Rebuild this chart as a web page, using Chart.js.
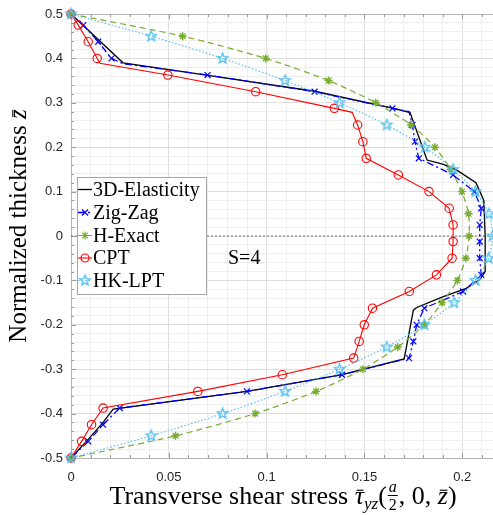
<!DOCTYPE html>
<html>
<head>
<meta charset="utf-8">
<script src="https://cdn.jsdelivr.net/npm/chart.js@4.4.0/dist/chart.umd.min.js"></script>
<style>
    html, body { margin: 0; padding: 0; background: #fff; }
    #wrap { width: 493px; height: 515px; }
</style>
</head>
<body>
<div id="wrap"><canvas id="shearChart" width="493" height="515"></canvas></div>
<script>
// Series names (legend order)
const seriesNames = ['3D-Elasticity', 'Zig-Zag', 'H-Exact', 'CPT', 'HK-LPT'];

// 3D-Elasticity (reference solution)
const elasticityX = [0, 0.0266, 0.07, 0.1245, 0.1643, 0.1733, 0.182, 0.19, 0.197, 0.207, 0.211, 0.2117, 0.2117,
    0.209, 0.202, 0.19, 0.1767, 0.175, 0.1703, 0.1385, 0.09, 0.0216, 0.016, 0.008, 0];
const elasticityY = [0.5, 0.39, 0.362, 0.326, 0.288, 0.278, 0.171, 0.162, 0.149, 0.12, 0.08, 0, -0.08,
    -0.098, -0.118, -0.137, -0.161, -0.167, -0.277, -0.312, -0.35, -0.39, -0.422, -0.462, -0.5];

// Zig-Zag
const zigZagX = [0, 0.0063, 0.0139, 0.0207, 0.0266, 0.0698, 0.1245, 0.1643, 0.1728, 0.1745, 0.1758, 0.1778, 0.1953,
    0.2062, 0.2097, 0.2089, 0.2089, 0.2089, 0.2097, 0.2004, 0.1806, 0.1767, 0.175, 0.1728, 0.1385, 0.0899, 0.0249,
    0.0164, 0.0088, 0];
const zigZagY = [0.5, 0.475, 0.4375, 0.4, 0.388, 0.3625, 0.325, 0.2875, 0.28, 0.25, 0.2125, 0.175, 0.1375,
    0.1, 0.0625, 0.025, -0.0125, -0.05, -0.0875, -0.125, -0.1625, -0.2, -0.2375, -0.275, -0.3125, -0.35, -0.3875,
    -0.425, -0.4625, -0.5];

// CPT
const cptX = [0, 0.0037, 0.0088, 0.0134, 0.0148, 0.0495, 0.0944, 0.1346, 0.1437, 0.1465, 0.1492, 0.1509, 0.1673,
    0.183, 0.1933, 0.1953, 0.1953, 0.1948, 0.1868, 0.1729, 0.1541, 0.1499, 0.1473, 0.1445, 0.108, 0.0648, 0.0164,
    0.0105, 0.0054, 0];
const cptY = [0.5, 0.475, 0.4375, 0.4, 0.389, 0.3625, 0.325, 0.2875, 0.2785, 0.25, 0.2125, 0.175, 0.1375,
    0.1, 0.0625, 0.025, -0.0125, -0.05, -0.0875, -0.125, -0.1625, -0.2, -0.2375, -0.275, -0.3125, -0.35, -0.3875,
    -0.425, -0.4625, -0.5];

// H-Exact and HK-LPT share the same thickness stations
const stationY = [0.5, 0.45, 0.4, 0.35, 0.3, 0.25, 0.2, 0.15, 0.1, 0.05, 0,
    -0.05, -0.1, -0.15, -0.2, -0.25, -0.3, -0.35, -0.4, -0.45, -0.5];
const hExactX = [0, 0.0571, 0.0995, 0.1317, 0.1558, 0.1738, 0.186, 0.194, 0.1998, 0.2032, 0.2035,
    0.2018, 0.1975, 0.1897, 0.1806, 0.167, 0.1492, 0.1253, 0.0941, 0.0534, 0];
const hkLptX = [0, 0.041, 0.0775, 0.1094, 0.1373, 0.1614, 0.1809, 0.1953, 0.2067, 0.2136, 0.2155,
    0.2134, 0.2067, 0.1958, 0.1806, 0.1614, 0.1373, 0.1094, 0.0775, 0.041, 0];

// Axis ticks
const xTickValues = [0, 0.05, 0.1, 0.15, 0.2];
const xTickLabels = ['0', '0.05', '0.1', '0.15', '0.2'];
const yTickValues = [-0.5, -0.4, -0.3, -0.2, -0.1, 0, 0.1, 0.2, 0.3, 0.4, 0.5];
const yTickLabels = ['-0.5', '-0.4', '-0.3', '-0.2', '-0.1', '0', '0.1', '0.2', '0.3', '0.4', '0.5'];
const xAxisMax = 0.2157;

// points that are only line kinks (no marker drawn)
const zigZagNoMarker = [4, 8];
const cptNoMarker = [4, 8];

const SERIF = '"Liberation Serif", "Times New Roman", serif';
const SANS = '"Liberation Sans", Arial, sans-serif';

function toPoints(xs, ys) {
    return xs.map((x, i) => ({ x: x, y: ys[i] }));
}

function tickLabel(v, values, labels) {
    for (let i = 0; i < values.length; i++) {
        if (Math.abs(values[i] - v) < 1e-6) return labels[i];
    }
    return '';
}

// five pointed star marker (MATLAB 'pentagram')
function makePentagram(color, r) {
    const c = document.createElement('canvas');
    const size = Math.ceil(2 * r + 4);
    c.width = size; c.height = size;
    const g = c.getContext('2d');
    const cx = size / 2, cy = size / 2;
    g.beginPath();
    for (let k = 0; k < 10; k++) {
        const rad = k % 2 === 0 ? r : r * 0.42;
        const a = -Math.PI / 2 + k * Math.PI / 5;
        const px = cx + rad * Math.cos(a), py = cy + rad * Math.sin(a);
        if (k === 0) g.moveTo(px, py); else g.lineTo(px, py);
    }
    g.closePath();
    g.strokeStyle = color;
    g.lineWidth = 1.3;
    g.stroke();
    return c;
}

const hkStar = makePentagram('#4DBEEE', 5.5);

const datasets = [
    {
        label: seriesNames[0],
        data: toPoints(elasticityX, elasticityY),
        borderColor: '#000000',
        borderWidth: 1.3,
        pointRadius: 0,
        order: 5,
        legendMarker: null
    },
    {
        label: seriesNames[1],
        data: toPoints(zigZagX, zigZagY),
        borderColor: '#0000FF',
        borderWidth: 1.3,
        borderDash: [7, 3, 2, 3],
        pointStyle: 'crossRot',
        pointRadius: c => zigZagNoMarker.includes(c.dataIndex) ? 0 : 4.2,
        pointBorderColor: '#0000FF',
        pointBorderWidth: 1.2,
        order: 4,
        legendMarker: 'crossRot'
    },
    {
        label: seriesNames[2],
        data: toPoints(hExactX, stationY),
        borderColor: '#77AC30',
        borderWidth: 1.2,
        borderDash: [6, 4],
        tension: 0.25,
        pointStyle: 'star',
        pointRadius: 4,
        pointBorderColor: '#77AC30',
        pointBorderWidth: 1.4,
        order: 3,
        legendMarker: 'star'
    },
    {
        label: seriesNames[3],
        data: toPoints(cptX, cptY),
        borderColor: '#FF0000',
        borderWidth: 1.1,
        pointStyle: 'circle',
        pointRadius: c => cptNoMarker.includes(c.dataIndex) ? 0 : 4.2,
        pointBorderColor: '#FF0000',
        pointBackgroundColor: 'rgba(0,0,0,0)',
        pointBorderWidth: 1.1,
        order: 2,
        legendMarker: 'circle'
    },
    {
        label: seriesNames[4],
        data: toPoints(hkLptX, stationY),
        borderColor: '#4DBEEE',
        borderWidth: 1.1,
        borderDash: [1.5, 2],
        tension: 0.25,
        pointStyle: hkStar,
        pointRadius: 6,
        order: 1,
        legendMarker: 'pentagram'
    },
    {
        label: '',
        data: [{ x: 0, y: 0 }, { x: xAxisMax, y: 0 }],
        borderColor: '#555555',
        borderWidth: 0.8,
        borderDash: [2, 2],
        pointRadius: 0,
        order: 6,
        legendMarker: null
    }
];
datasets.forEach(ds => { ds.showLine = true; ds.clip = false; ds.fill = false; });

function drawMarker(ctx, kind, x, y, color) {
    ctx.save();
    ctx.strokeStyle = color;
    ctx.lineWidth = 1.2;
    ctx.beginPath();
    if (kind === 'crossRot') {
        const d = 3;
        ctx.moveTo(x - d, y - d); ctx.lineTo(x + d, y + d);
        ctx.moveTo(x - d, y + d); ctx.lineTo(x + d, y - d);
        ctx.stroke();
    } else if (kind === 'star') {
        const d = 4, e = 2.8;
        ctx.moveTo(x - d, y); ctx.lineTo(x + d, y);
        ctx.moveTo(x, y - d); ctx.lineTo(x, y + d);
        ctx.moveTo(x - e, y - e); ctx.lineTo(x + e, y + e);
        ctx.moveTo(x - e, y + e); ctx.lineTo(x + e, y - e);
        ctx.stroke();
    } else if (kind === 'circle') {
        ctx.arc(x, y, 4, 0, Math.PI * 2);
        ctx.stroke();
    } else if (kind === 'pentagram') {
        ctx.drawImage(hkStar, x - hkStar.width / 2, y - hkStar.height / 2);
    }
    ctx.restore();
}

// text pieces with optional bar / italic / offsets
function drawRun(ctx, pieces, startX, baseY) {
    let x = startX;
    pieces.forEach(p => {
        if (p.frac) {
            ctx.font = 'italic 16px ' + SERIF;
            const wa = ctx.measureText(p.frac[0]).width;
            ctx.font = '16px ' + SERIF;
            const wb = ctx.measureText(p.frac[1]).width;
            const w = Math.max(wa, wb) + 4;
            ctx.font = 'italic 16px ' + SERIF;
            ctx.fillText(p.frac[0], x + (w - wa) / 2, baseY - 12);
            ctx.font = '16px ' + SERIF;
            ctx.fillText(p.frac[1], x + (w - wb) / 2, baseY + 6);
            ctx.fillRect(x + 1, baseY - 9, w - 2, 1);
            x += w;
            return;
        }
        ctx.font = (p.italic ? 'italic ' : '') + p.size + 'px ' + SERIF;
        const w = ctx.measureText(p.t).width;
        ctx.fillText(p.t, x, baseY + (p.dy || 0));
        if (p.bar) {
            ctx.fillRect(x + w * 0.2, baseY - p.size * 0.55, w * 0.75, 1.1);
        }
        x += w;
    });
    return x - startX;
}

function measureRun(ctx, pieces) {
    let total = 0;
    pieces.forEach(p => {
        if (p.frac) {
            ctx.font = 'italic 16px ' + SERIF;
            const wa = ctx.measureText(p.frac[0]).width;
            ctx.font = '16px ' + SERIF;
            const wb = ctx.measureText(p.frac[1]).width;
            total += Math.max(wa, wb) + 4;
            return;
        }
        ctx.font = (p.italic ? 'italic ' : '') + p.size + 'px ' + SERIF;
        total += ctx.measureText(p.t).width;
    });
    return total;
}

const decorPlugin = {
    id: 'decor',
    beforeDatasetsDraw(chart) {
        const ctx = chart.ctx;
        const a = chart.chartArea;
        const xs = chart.scales.x, ys = chart.scales.y;
        ctx.save();
        // top border
        ctx.strokeStyle = '#b5b5b5';
        ctx.lineWidth = 1;
        ctx.beginPath();
        ctx.moveTo(a.left, a.top + 0.5);
        ctx.lineTo(a.right, a.top + 0.5);
        ctx.stroke();
        // inward tick marks
        ctx.strokeStyle = '#9a9a9a';
        ctx.beginPath();
        xs.ticks.forEach(t => {
            const px = Math.round(xs.getPixelForValue(t.value)) + 0.5;
            const len = tickLabel(t.value, xTickValues, xTickLabels) !== '' ? 5 : 3;
            ctx.moveTo(px, a.bottom); ctx.lineTo(px, a.bottom - len);
            ctx.moveTo(px, a.top); ctx.lineTo(px, a.top + len);
        });
        ys.ticks.forEach(t => {
            const py = Math.round(ys.getPixelForValue(t.value)) + 0.5;
            const len = tickLabel(t.value, yTickValues, yTickLabels) !== '' ? 5 : 3;
            ctx.moveTo(a.left, py); ctx.lineTo(a.left + len, py);
        });
        ctx.stroke();
        ctx.restore();
    },
    afterDraw(chart) {
        const ctx = chart.ctx;
        ctx.save();
        ctx.fillStyle = '#000';
        ctx.textBaseline = 'alphabetic';

        // x axis title
        const xPieces = [
            { t: 'Transverse shear stress ', size: 26 },
            { t: '\u03C4', size: 26, italic: true, bar: true },
            { t: 'yz', size: 17, italic: true, dy: 5 },
            { t: '(', size: 26 },
            { frac: ['a', '2'] },
            { t: ', 0, ', size: 26 },
            { t: 'z', size: 26, italic: true, bar: true },
            { t: ')', size: 26 }
        ];
        const xw = measureRun(ctx, xPieces);
        drawRun(ctx, xPieces, 283 - xw / 2, 504);

        // y axis title
        ctx.save();
        ctx.translate(26, 226);
        ctx.rotate(-Math.PI / 2);
        const yPieces = [
            { t: 'Normalized thickness ', size: 25 },
            { t: 'z', size: 25, italic: true, bar: true }
        ];
        const yw = measureRun(ctx, yPieces);
        drawRun(ctx, yPieces, -yw / 2, 0);
        ctx.restore();

        // annotation
        ctx.font = '20px ' + SERIF;
        ctx.textBaseline = 'middle';
        ctx.fillText('S=4', 228, 259);

        // legend box
        const lx = 77, ly = 177, lw = 129, lh = 117;
        ctx.fillStyle = '#ffffff';
        ctx.fillRect(lx, ly, lw, lh);
        ctx.strokeStyle = '#a8a8a8';
        ctx.lineWidth = 1;
        ctx.strokeRect(lx + 0.5, ly + 0.5, lw, lh);
        const rowY = [189.5, 212.5, 235.5, 258, 280.5];
        seriesNames.forEach((name, i) => {
            const ds = chart.data.datasets[i];
            const y = rowY[i];
            ctx.save();
            ctx.strokeStyle = ds.borderColor;
            ctx.lineWidth = ds.borderWidth;
            ctx.setLineDash(ds.borderDash || []);
            ctx.beginPath();
            ctx.moveTo(78, y);
            ctx.lineTo(92, y);
            ctx.stroke();
            ctx.restore();
            if (ds.legendMarker) drawMarker(ctx, ds.legendMarker, 85, y, ds.borderColor);
            ctx.fillStyle = '#000';
            ctx.font = '20px ' + SERIF;
            ctx.textBaseline = 'middle';
            ctx.fillText(name, 93, y + 1);
        });
        ctx.restore();
    }
};

const ctx = document.getElementById('shearChart').getContext('2d');
const shearChart = new Chart(ctx, {
    type: 'scatter',
    data: { datasets: datasets },
    options: {
        responsive: false,
        animation: false,
        layout: { autoPadding: false, padding: { top: 14, left: 0, right: 0, bottom: 0 } },
        plugins: {
            legend: { display: false },
            title: { display: false },
            tooltip: { enabled: false }
        },
        scales: {
            x: {
                type: 'linear',
                min: 0,
                max: xAxisMax,
                afterFit: s => {
                    s.height = 57;
                    s.paddingLeft = 0;
                    s.paddingRight = 0;
                },
                afterBuildTicks: s => {
                    const t = [];
                    for (let i = 0; i <= 21; i++) t.push({ value: i / 100 });
                    s.ticks = t;
                },
                ticks: {
                    autoSkip: false,
                    maxRotation: 0,
                    padding: 12,
                    color: '#262626',
                    font: { family: SANS, size: 13 },
                    callback: v => tickLabel(v, xTickValues, xTickLabels)
                },
                grid: {
                    drawTicks: false,
                    color: c => (c.tick && tickLabel(c.tick.value, xTickValues, xTickLabels) !== '') ? '#dedede' : '#eeeeee'
                },
                border: { color: '#b5b5b5' }
            },
            y: {
                type: 'linear',
                min: -0.5,
                max: 0.5,
                afterFit: s => {
                    s.width = 71;
                    s.paddingTop = 0;
                    s.paddingBottom = 0;
                },
                afterBuildTicks: s => {
                    const t = [];
                    for (let i = -25; i <= 25; i++) t.push({ value: i / 50 });
                    s.ticks = t;
                },
                ticks: {
                    autoSkip: false,
                    padding: 8,
                    color: '#262626',
                    font: { family: SANS, size: 13 },
                    callback: v => tickLabel(v, yTickValues, yTickLabels)
                },
                grid: {
                    drawTicks: false,
                    color: c => (c.tick && tickLabel(c.tick.value, yTickValues, yTickLabels) !== '') ? '#dedede' : '#eeeeee'
                },
                border: { color: '#b5b5b5' }
            }
        }
    },
    plugins: [decorPlugin]
});
</script>
</body>
</html>
